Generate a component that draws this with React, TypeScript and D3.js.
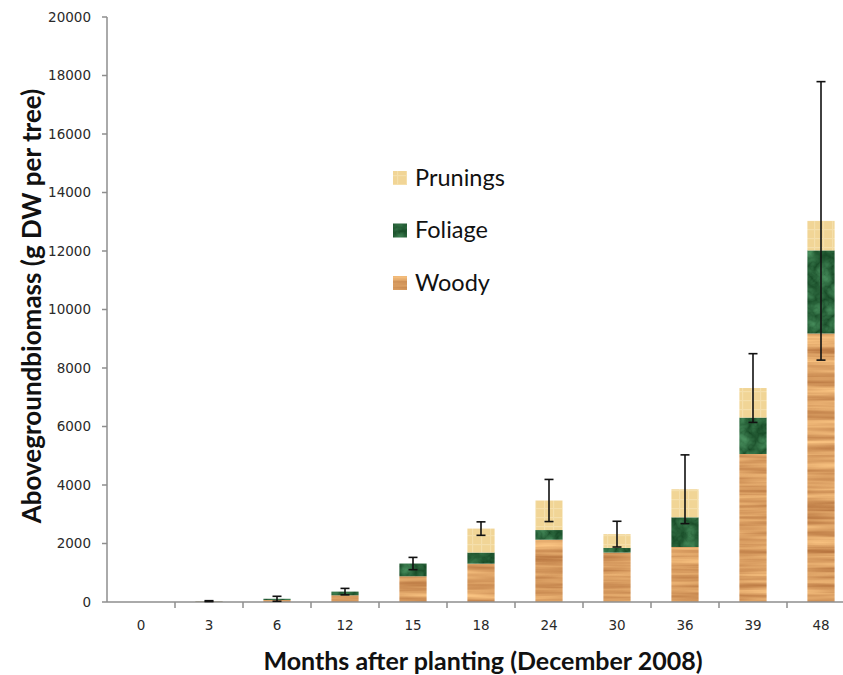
import React, { useEffect, useRef } from "react";
import * as d3 from "d3";

// months after planting
const months = ["0", "3", "6", "12", "15", "18", "24", "30", "36", "39", "48"];
// g DW per tree
const woody = [0, 20, 70, 230, 880, 1310, 2130, 1690, 1880, 5060, 9180];
const foliage = [0, 10, 40, 125, 435, 380, 330, 160, 1015, 1245, 2840];
const prunings = [0, 0, 0, 0, 0, 820, 1010, 470, 960, 1010, 1010];
const errors = [0, 15, 85, 110, 210, 230, 720, 440, 1175, 1175, 4760];
const yTicks = [0, 2000, 4000, 6000, 8000, 10000, 12000, 14000, 16000, 18000, 20000];

const seriesKeys = ["woody", "foliage", "prunings"];
const legendItems = [
  { key: "prunings", label: "Prunings" },
  { key: "foliage", label: "Foliage" },
  { key: "woody", label: "Woody" },
];

const W = 843;
const H = 675;
const FONT = "Lato, 'Open Sans', sans-serif";

export default function App() {
  const ref = useRef<SVGSVGElement>(null);

  useEffect(() => {
    if (!ref.current) return;
    const svg = d3.select(ref.current);
    svg.selectAll("*").remove();

    const rows = months.map((m, i) => ({
      month: m,
      woody: woody[i],
      foliage: foliage[i],
      prunings: prunings[i],
      err: errors[i],
    }));

    const x = d3.scaleBand().domain(months).range([107, 855]).paddingInner(0.6).paddingOuter(0.3);
    const xOuter = d3.scaleBand().domain(months).range([107, 855]);
    const y = d3.scaleLinear().domain([0, 20000]).range([602, 17]);

    // textures
    const defs = svg.append("defs");
    const wood = defs.append("filter").attr("id", "wood").attr("x", 0).attr("y", 0).attr("width", 1).attr("height", 1)
      .attr("color-interpolation-filters", "sRGB");
    wood.append("feTurbulence").attr("type", "fractalNoise").attr("baseFrequency", "0.008 0.18").attr("numOctaves", 3).attr("seed", 4).attr("result", "n");
    wood.append("feColorMatrix").attr("in", "n").attr("type", "matrix")
      .attr("values", "0.38 0 0 0 0.66  0.45 0 0 0 0.39  0.38 0 0 0 0.19  0 0 0 0 1").attr("result", "c");
    wood.append("feComposite").attr("in", "c").attr("in2", "SourceGraphic").attr("operator", "in");

    const leaf = defs.append("filter").attr("id", "leaf").attr("x", 0).attr("y", 0).attr("width", 1).attr("height", 1)
      .attr("color-interpolation-filters", "sRGB");
    leaf.append("feTurbulence").attr("type", "turbulence").attr("baseFrequency", "0.06").attr("numOctaves", 3).attr("seed", 7).attr("result", "n");
    leaf.append("feColorMatrix").attr("in", "n").attr("type", "matrix")
      .attr("values", "0.25 0 0 0 0.09  0.35 0 0 0 0.29  0.28 0 0 0 0.15  0 0 0 0 1").attr("result", "c");
    leaf.append("feComposite").attr("in", "c").attr("in2", "SourceGraphic").attr("operator", "in");

    const pr = defs.append("pattern").attr("id", "prun").attr("patternUnits", "userSpaceOnUse").attr("width", 9).attr("height", 9);
    pr.append("rect").attr("width", 9).attr("height", 9).attr("fill", "#f1d596");
    pr.append("rect").attr("x", 4).attr("width", 1.2).attr("height", 9).attr("fill", "#f5dfab");
    pr.append("rect").attr("y", 4).attr("width", 9).attr("height", 1.2).attr("fill", "#f5dfab");

    const fillFor: Record<string, any> = {
      woody: { fill: "#d79a60", filter: "url(#wood)" },
      foliage: { fill: "#235c30", filter: "url(#leaf)" },
      prunings: { fill: "url(#prun)", filter: null },
    };

    // axes
    const axisColor = "#8e8e8e";
    svg.append("line").attr("x1", 107).attr("x2", 107).attr("y1", y(20000)).attr("y2", y(0))
      .attr("stroke", axisColor).attr("stroke-width", 1.5);
    svg.selectAll(".ytick").data(yTicks).enter().append("line")
      .attr("x1", 102).attr("x2", 107).attr("y1", (d) => y(d)).attr("y2", (d) => y(d))
      .attr("stroke", axisColor).attr("stroke-width", 1.5);
    svg.selectAll(".ylab").data(yTicks).enter().append("text")
      .attr("x", 91).attr("y", (d) => y(d)).attr("dy", "0.36em")
      .attr("text-anchor", "end").attr("font-family", "'DejaVu Sans', sans-serif").attr("font-size", 13.5)
      .attr("fill", "#2a2a2a").text((d) => d);

    // stacked bars
    const stacked = d3.stack<any>().keys(seriesKeys)(rows);
    stacked.forEach((layer) => {
      const f = fillFor[layer.key];
      svg.append("g").selectAll("rect").data(layer).enter().append("rect")
        .attr("x", (d: any) => x(d.data.month)!)
        .attr("width", x.bandwidth())
        .attr("y", (d: any) => y(d[1]))
        .attr("height", (d: any) => y(d[0]) - y(d[1]))
        .attr("fill", f.fill)
        .attr("filter", f.filter);
    });

    svg.append("line").attr("x1", 107).attr("x2", 855).attr("y1", y(0)).attr("y2", y(0))
      .attr("stroke", axisColor).attr("stroke-width", 1.5);
    svg.selectAll(".xtick").data(months.slice(1)).enter().append("line")
      .attr("x1", (d) => xOuter(d)!).attr("x2", (d) => xOuter(d)!)
      .attr("y1", y(0)).attr("y2", y(0) + 6)
      .attr("stroke", axisColor).attr("stroke-width", 1.5);
    svg.selectAll(".xlab").data(months).enter().append("text")
      .attr("x", (d) => xOuter(d)! + xOuter.bandwidth() / 2).attr("y", 625).attr("dy", "0.36em")
      .attr("text-anchor", "middle").attr("font-family", "'DejaVu Sans', sans-serif").attr("font-size", 13.5)
      .attr("fill", "#2a2a2a").text((d) => d);

    // error bars
    const eb = svg.append("g").selectAll("g").data(rows.filter((r) => r.err > 0)).enter().append("g")
      .attr("stroke", "#111").attr("stroke-width", 1.6);
    const cx = (d: any) => x(d.month)! + x.bandwidth() / 2;
    const tot = (d: any) => d.woody + d.foliage + d.prunings;
    eb.append("line").attr("x1", cx).attr("x2", cx)
      .attr("y1", (d) => y(tot(d) - d.err)).attr("y2", (d) => y(tot(d) + d.err));
    eb.append("line").attr("x1", (d) => cx(d) - 4.5).attr("x2", (d) => cx(d) + 4.5)
      .attr("y1", (d) => y(tot(d) + d.err)).attr("y2", (d) => y(tot(d) + d.err));
    eb.append("line").attr("x1", (d) => cx(d) - 4.5).attr("x2", (d) => cx(d) + 4.5)
      .attr("y1", (d) => y(tot(d) - d.err)).attr("y2", (d) => y(tot(d) - d.err));

    // legend
    const lg = svg.append("g").selectAll("g").data(legendItems).enter().append("g")
      .attr("transform", (d, i) => `translate(393, ${171 + i * 52.5})`);
    lg.append("rect").attr("width", 14).attr("height", 14)
      .attr("fill", (d) => fillFor[d.key].fill).attr("filter", (d) => fillFor[d.key].filter);
    lg.append("text").attr("x", 22).attr("y", 14.5).attr("font-family", FONT).attr("font-size", 23.5)
      .attr("fill", "#111").text((d) => d.label);

    // axis titles
    svg.append("text")
      .attr("transform", `translate(41, 306) rotate(-90)`)
      .attr("text-anchor", "middle").attr("font-family", FONT).attr("font-weight", "bold")
      .attr("font-size", 26).attr("fill", "#111").text("Abovegroundbiomass (g DW per tree)");
    svg.append("text")
      .attr("x", 483).attr("y", 670)
      .attr("text-anchor", "middle").attr("font-family", FONT).attr("font-weight", "bold")
      .attr("font-size", 25).attr("fill", "#111").text("Months after planting (December 2008)");
  }, []);

  return (
    <svg
      ref={ref}
      width={W}
      height={H}
      style={{ position: "absolute", left: 0, top: 0, background: "#fff", display: "block" }}
    />
  );
}
